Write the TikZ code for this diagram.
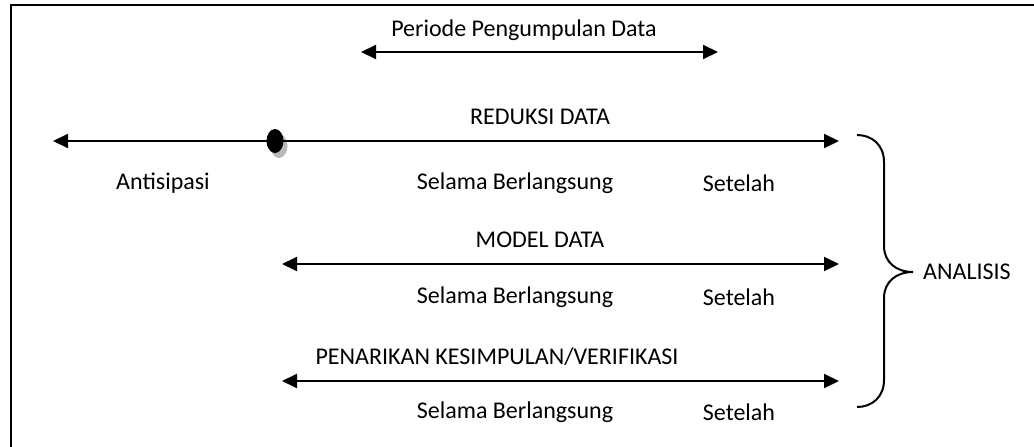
\documentclass[tikz,border=0pt]{standalone}
\usepackage{fontspec}
\setmainfont{Carlito}
\usetikzlibrary{arrows.meta,shapes.geometric}
\begin{document}
\begin{tikzpicture}[x=1pt,y=-1pt,
  lbl/.style={inner sep=0pt,font=\fontsize{24}{28}\selectfont},
  dbl/.style={line width=2pt,{Triangle[length=15pt,width=14pt]}-{Triangle[length=15pt,width=14pt]}},
  frame/.style={line width=2.2pt},
  brace/.style={line width=2pt}]
\useasboundingbox (0,0) rectangle (1034,447);
% frame
\coordinate (fr) at (1034,5);
\coordinate (fc) at (11,5);
\coordinate (fb) at (11,447);
\draw[frame] (fr) -- (fc) -- (fb);
% top period
\node[lbl] (period) at (524,30) {Periode Pengumpulan Data};
\coordinate (pL) at (361,52);
\coordinate (pR) at (718,52);
\draw[dbl] (pL) -- (pR);
% reduksi
\node[lbl] (red) at (540,117) {REDUKSI DATA};
\coordinate (rL) at (53,141);
\coordinate (rR) at (839,141);
\node[ellipse,fill=gray!55,minimum width=17pt,minimum height=24pt,inner sep=0pt] (shadow) at (279,146) {};
\draw[dbl] (rL) -- (rR);
\node[ellipse,fill=black,minimum width=17pt,minimum height=24pt,inner sep=0pt] (dot) at (275,141) {};
\node[lbl] (ant) at (163,183) {Antisipasi};
\node[lbl] (s1) at (515,183) {Selama Berlangsung};
\node[lbl] (t1) at (739,183) {Setelah};
% model
\node[lbl] (mod) at (540,240) {MODEL DATA};
\coordinate (mL) at (282,264);
\coordinate (mR) at (839,264);
\draw[dbl] (mL) -- (mR);
\node[lbl] (s2) at (515,297) {Selama Berlangsung};
\node[lbl] (t2) at (739,297) {Setelah};
% penarikan
\node[lbl] (pen) at (497,357) {PENARIKAN KESIMPULAN/VERIFIKASI};
\coordinate (kL) at (282,381);
\coordinate (kR) at (839,381);
\draw[dbl] (kL) -- (kR);
\node[lbl] (s3) at (515,412) {Selama Berlangsung};
\node[lbl] (t3) at (739,412) {Setelah};
% brace
\coordinate (bT) at (857,135);
\coordinate (bM) at (913,272);
\coordinate (bB) at (857,407);
\draw[brace] (bT) .. controls (872,135) and (884,145) .. (884,162)
  -- (884,246) .. controls (884,262) and (896,272) .. (bM);
\draw[brace] (bM) .. controls (896,272) and (884,282) .. (884,298)
  -- (884,380) .. controls (884,397) and (872,407) .. (bB);
\node[lbl,anchor=west] (ana) at (923,272) {ANALISIS};
\end{tikzpicture}
\end{document}
